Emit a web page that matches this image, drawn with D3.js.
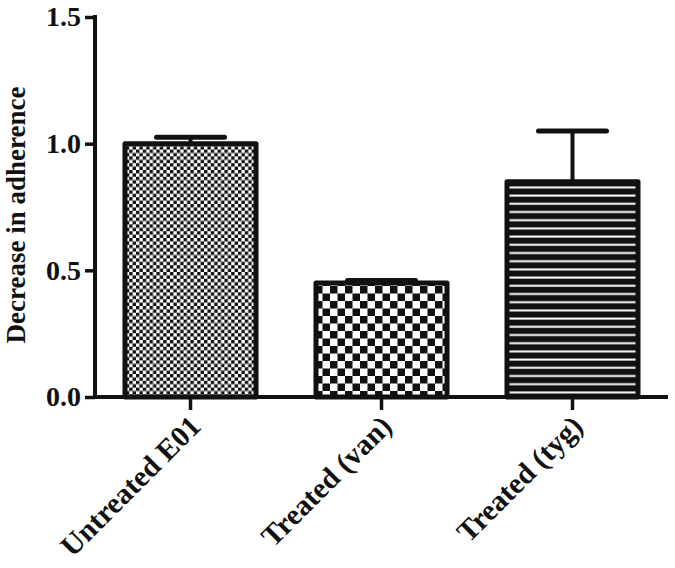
<!DOCTYPE html>
<html><head><meta charset="utf-8">
<script src="https://cdn.jsdelivr.net/npm/d3@7"></script>
<style>body{margin:0;background:#fff}svg{display:block}</style>
</head><body>
<script>
const categories = ["Untreated E01", "Treated (van)", "Treated (tyg)"];
const values = [1.0, 0.45, 0.85];
const errors = [0.025, 0.01, 0.20];
const yTicks = [0.0, 0.5, 1.0, 1.5];
const yTitle = "Decrease in adherence";

const W = 675, H = 568;
const svg = d3.select("body").append("svg").attr("width", W).attr("height", H);
const font = "'Liberation Serif','Times New Roman',serif";

const defs = svg.append("defs");
// fine checker
const p1 = defs.append("pattern").attr("id","p1").attr("patternUnits","userSpaceOnUse")
  .attr("width",6.8).attr("height",6.8);
p1.append("rect").attr("width",6.8).attr("height",6.8).attr("fill","#fff");
p1.append("rect").attr("width",3.4).attr("height",3.4).attr("fill","#111");
p1.append("rect").attr("x",3.4).attr("y",3.4).attr("width",3.4).attr("height",3.4).attr("fill","#111");
// coarse checker
const p2 = defs.append("pattern").attr("id","p2").attr("patternUnits","userSpaceOnUse")
  .attr("width",15).attr("height",15).attr("x",0).attr("y",1);
p2.append("rect").attr("width",15).attr("height",15).attr("fill","#fff");
p2.append("rect").attr("width",7.5).attr("height",7.5).attr("fill","#111");
p2.append("rect").attr("x",7.5).attr("y",7.5).attr("width",7.5).attr("height",7.5).attr("fill","#111");
// horizontal stripes
const p3 = defs.append("pattern").attr("id","p3").attr("patternUnits","userSpaceOnUse")
  .attr("width",8).attr("height",8.2).attr("y",1);
p3.append("rect").attr("width",8).attr("height",8.2).attr("fill","#111");
p3.append("rect").attr("y",5).attr("width",8).attr("height",2).attr("fill","#fff");
const fills = ["url(#p1)","url(#p2)","url(#p3)"];

const x = d3.scaleBand().domain(categories).range([95, 668]).paddingInner(0.314).paddingOuter(0.157);
const y = d3.scaleLinear().domain([0, 1.5]).range([397, 17]);

// error bars (upper only)
const capW = 68;
const eg = svg.append("g");
categories.forEach((c, i) => {
  const cx = x(c) + x.bandwidth()/2;
  eg.append("line").attr("x1",cx).attr("x2",cx).attr("y1",y(values[i])).attr("y2",y(values[i]+errors[i]))
    .attr("stroke","#111").attr("stroke-width",4);
  eg.append("line").attr("x1",cx-capW/2).attr("x2",cx+capW/2).attr("y1",y(values[i]+errors[i])).attr("y2",y(values[i]+errors[i]))
    .attr("stroke","#111").attr("stroke-width",5).attr("stroke-linecap","round");
});

// bars
svg.append("g").selectAll("rect").data(categories).join("rect")
  .attr("x", d => x(d)).attr("width", x.bandwidth())
  .attr("y", (d,i) => y(values[i])).attr("height", (d,i) => y(0) - y(values[i]))
  .attr("fill", (d,i) => fills[i])
  .attr("stroke","#111").attr("stroke-width",5).attr("stroke-linejoin","round");

// y axis
const ya = svg.append("g").attr("transform","translate(95,0)")
  .call(d3.axisLeft(y).tickValues(yTicks).tickFormat(d3.format(".1f")).tickSize(10).tickPadding(4));
ya.select(".domain").attr("stroke","#111").attr("stroke-width",4).attr("d", `M0,${y(1.5)-2}V${y(0)+2}`);
ya.selectAll(".tick line").attr("stroke","#111").attr("stroke-width",3.5);
ya.selectAll(".tick text").attr("font-family",font).attr("font-weight","bold").attr("font-size",28).attr("fill","#111");

// x axis
const xa = svg.append("g").attr("transform",`translate(0,${y(0)})`)
  .call(d3.axisBottom(x).tickSize(13).tickFormat(""));
xa.select(".domain").attr("stroke","#111").attr("stroke-width",4).attr("d","M93,0H668");
xa.selectAll(".tick line").attr("stroke","#111").attr("stroke-width",3.5);
xa.selectAll(".tick").append("text")
  .attr("text-anchor","end")
  .attr("transform","translate(12,31) rotate(-45)")
  .attr("font-family",font).attr("font-weight","bold").attr("font-size",29.5).attr("fill","#111")
  .text(d => d);

// y title
svg.append("text").attr("transform","translate(25,215) rotate(-90)")
  .attr("text-anchor","middle").attr("font-family",font).attr("font-weight","bold").attr("font-size",27)
  .attr("fill","#111").text(yTitle);
</script>
</body></html>
